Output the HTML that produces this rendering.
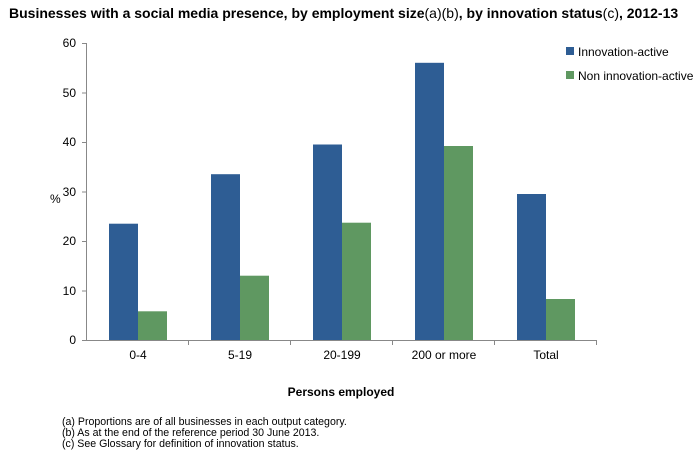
<!DOCTYPE html><html><head><style>body{margin:0;background:#fff}svg{display:block}text{font-family:"Liberation Sans",Arial,sans-serif}</style></head><body>
<svg width="700" height="453" viewBox="0 0 700 453">
<text x="9" y="18" font-size="14" font-weight="bold" fill="#000">Businesses with a social media presence, by employment size<tspan font-weight="normal">(a)(b)</tspan>, by innovation status<tspan font-weight="normal">(c)</tspan>, 2012-13</text>
<g font-size="12" fill="#000" text-anchor="end">
<text x="76" y="344">0</text><text x="76" y="295">10</text><text x="76" y="245">20</text><text x="76" y="196">30</text><text x="76" y="146">40</text><text x="76" y="97">50</text><text x="76" y="47">60</text>
</g>
<text x="50" y="203" font-size="12">%</text>
<g stroke="#888" stroke-width="1">
<line x1="86.5" y1="43" x2="86.5" y2="341"/>
<line x1="86" y1="340.5" x2="596" y2="340.5"/>
<line x1="82" y1="340.5" x2="86" y2="340.5"/><line x1="82" y1="291" x2="86" y2="291"/><line x1="82" y1="241.5" x2="86" y2="241.5"/><line x1="82" y1="192" x2="86" y2="192"/><line x1="82" y1="142.5" x2="86" y2="142.5"/><line x1="82" y1="93" x2="86" y2="93"/><line x1="82" y1="43.5" x2="86" y2="43.5"/>
<line x1="188.5" y1="340" x2="188.5" y2="345"/><line x1="290.5" y1="340" x2="290.5" y2="345"/><line x1="392.5" y1="340" x2="392.5" y2="345"/><line x1="494.5" y1="340" x2="494.5" y2="345"/><line x1="596.5" y1="340" x2="596.5" y2="345"/>
</g>
<g fill="#2e5d94">
<rect x="109" y="223.7" width="29" height="116.3"/>
<rect x="211" y="174.2" width="29" height="165.8"/>
<rect x="313" y="144.5" width="29" height="195.5"/>
<rect x="415" y="62.8" width="29" height="277.2"/>
<rect x="517" y="194" width="29" height="146"/>
</g>
<g fill="#5f9861">
<rect x="138" y="311.3" width="29" height="28.7"/>
<rect x="240" y="275.7" width="29" height="64.3"/>
<rect x="342" y="222.7" width="29" height="117.3"/>
<rect x="444" y="146" width="29" height="194"/>
<rect x="546" y="299" width="29" height="41"/>
</g>
<g font-size="12" text-anchor="middle">
<text x="138" y="359">0-4</text><text x="240" y="359">5-19</text><text x="342" y="359">20-199</text><text x="444" y="359">200 or more</text><text x="546" y="359">Total</text>
</g>
<text x="341" y="396" font-size="12" font-weight="bold" text-anchor="middle">Persons employed</text>
<rect x="566" y="47" width="8" height="8" fill="#2e5d94"/><text x="578" y="56" font-size="12">Innovation-active</text>
<rect x="566" y="71" width="8" height="8" fill="#5f9861"/><text x="578" y="80" font-size="12">Non innovation-active</text>
<g font-size="10.6">
<text x="62" y="425">(a) Proportions are of all businesses in each output category.</text>
<text x="62" y="436">(b) As at the end of the reference period 30 June 2013.</text>
<text x="62" y="447">(c) See Glossary for definition of innovation status.</text>
</g>
</svg></body></html>
